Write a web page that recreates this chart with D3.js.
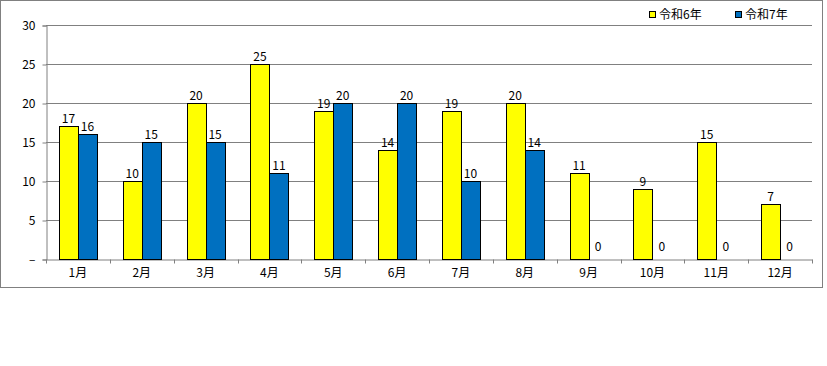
<!DOCTYPE html>
<html>
<head>
<meta charset="utf-8">
<script src="https://cdn.jsdelivr.net/npm/d3@7"></script>
<style>
  body { margin: 0; background: #fff; }
  svg text { font-family: "Noto Sans CJK JP", "DejaVu Sans", sans-serif; font-size: 12px; fill: #000; }
</style>
</head>
<body>
<svg id="chart"></svg>
<script>
// data
var months = ["1月", "2月", "3月", "4月", "5月", "6月", "7月", "8月", "9月", "10月", "11月", "12月"];
var seriesNames = ["令和6年", "令和7年"];
var r6 = [17, 10, 20, 25, 19, 14, 19, 20, 11, 9, 15, 7];
var r7 = [16, 15, 15, 11, 20, 20, 10, 14, 0, 0, 0, 0];
var yTicks = [0, 5, 10, 15, 20, 25, 30];
var colors = ["#FFFF00", "#0070C0"];

var width = 827, height = 366;
var plotLeft = 46, plotRight = 812, plotTop = 25, plotBottom = 259;

var svg = d3.select("#chart")
    .attr("width", width)
    .attr("height", height);

// outer frame
svg.append("rect")
    .attr("x", 0.5).attr("y", 0.5)
    .attr("width", 822).attr("height", 287)
    .attr("fill", "none")
    .attr("stroke", "#808080");

var x = d3.scaleBand().domain(months).range([plotLeft, plotRight]);
var xs = d3.scaleBand().domain(seriesNames).range([0, x.bandwidth()]).paddingInner(0).paddingOuter(0.68);
var y = d3.scaleLinear().domain([0, 30]).range([plotBottom, plotTop]);

// gridlines
svg.append("g").selectAll("line")
    .data(yTicks.slice(1))
    .enter().append("line")
    .attr("x1", plotLeft).attr("x2", plotRight)
    .attr("y1", function(d) { return Math.round(y(d)) + 0.5; })
    .attr("y2", function(d) { return Math.round(y(d)) + 0.5; })
    .attr("stroke", "#808080");

// y axis
var yAxis = svg.append("g")
    .attr("transform", "translate(" + (plotLeft + 0.5) + ",0.5)")
    .call(d3.axisLeft(y).tickValues(yTicks).tickSize(4).tickPadding(7)
        .tickFormat(function(d) { return d === 0 ? "–" : d; }));
yAxis.selectAll("path, line").attr("stroke", "#808080");
yAxis.attr("font-family", null).attr("font-size", null);

// x axis
var xAxis = svg.append("g")
    .attr("transform", "translate(0," + (plotBottom + 0.5) + ")")
    .call(d3.axisBottom(x).tickSize(0).tickPadding(9));
xAxis.select(".domain").attr("stroke", "#808080");
xAxis.attr("font-family", null).attr("font-size", null);
xAxis.selectAll(".xtick")
    .data(d3.range(months.length + 1))
    .enter().append("line")
    .attr("x1", function(i) { return Math.round(plotLeft + i * x.step()) + 0.5; })
    .attr("x2", function(i) { return Math.round(plotLeft + i * x.step()) + 0.5; })
    .attr("y1", 0).attr("y2", 4)
    .attr("stroke", "#808080");

// bars
var series = [r6, r7];
series.forEach(function(vals, si) {
    var g = svg.append("g");
    g.selectAll("rect")
        .data(vals)
        .enter().append("rect")
        .attr("x", function(d, i) { return Math.round(x(months[i]) + xs(seriesNames[si])) + 0.5; })
        .attr("y", function(d) { return Math.round(y(d)) + 0.5; })
        .attr("width", Math.round(xs.bandwidth()))
        .attr("height", function(d) { return Math.round(y(0)) - Math.round(y(d)); })
        .attr("fill", colors[si])
        .attr("stroke", function(d) { return d === 0 ? "none" : "#000"; });
    g.selectAll("text")
        .data(vals)
        .enter().append("text")
        .attr("x", function(d, i) { return x(months[i]) + xs(seriesNames[si]) + xs.bandwidth() / 2; })
        .attr("y", function(d) { return y(d) - (d === 0 ? 8 : 3); })
        .attr("text-anchor", "middle")
        .text(function(d) { return d; });
});

// legend
var legendX = [649, 735];
seriesNames.forEach(function(name, i) {
    svg.append("rect")
        .attr("x", legendX[i] + 0.5).attr("y", 11.5)
        .attr("width", 6).attr("height", 6)
        .attr("fill", colors[i]).attr("stroke", "#000");
    svg.append("text")
        .attr("x", legendX[i] + 10).attr("y", 19)
        .text(name);
});
</script>
</body>
</html>
